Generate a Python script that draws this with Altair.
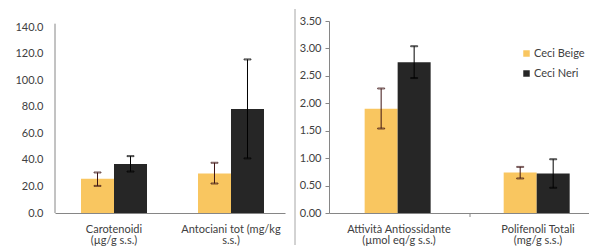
import altair as alt
import pandas as pd

FONT = "Lato"
TXT = "#404040"
AX = "#868686"
SEP = "#a6a6a6"

series = ["Ceci Beige", "Ceci Neri"]
bar_colors = ["#F9C660", "#262626"]
err_colors = ["#3d1414", "#000000"]

# left panel
left_cats = ["Carotenoidi|(µg/g s.s.)", "Antociani tot  (mg/kg|s.s.)"]
left_beige = [25.8, 29.8]
left_beige_lo = [20.4, 22.2]
left_beige_hi = [30.5, 37.8]
left_neri = [36.8, 78.2]
left_neri_lo = [31.2, 41.1]
left_neri_hi = [42.8, 115.6]
left_ticks = [0, 20, 40, 60, 80, 100, 120, 140]

# right panel
right_cats = ["Attività Antiossidante|(µmol eq/g  s.s.)", "Polifenoli Totali|(mg/g s.s.)"]
right_beige = [1.90, 0.74]
right_beige_lo = [1.54, 0.63]
right_beige_hi = [2.27, 0.84]
right_neri = [2.75, 0.72]
right_neri_lo = [2.46, 0.46]
right_neri_hi = [3.04, 0.98]
right_ticks = [0, 0.5, 1.0, 1.5, 2.0, 2.5, 3.0, 3.5]


def panel_df(cats, b, blo, bhi, n, nlo, nhi):
    rows = []
    for i, c in enumerate(cats):
        rows.append(dict(cat=c, series=series[0], v=b[i], lo=blo[i], hi=bhi[i]))
        rows.append(dict(cat=c, series=series[1], v=n[i], lo=nlo[i], hi=nhi[i]))
    return pd.DataFrame(rows)


def panel(df, cats, yscale, y_axis, xscale, offscale, legend, W, H, extra=None):
    base = alt.Chart(df)
    x = alt.X(
        "cat:N", sort=cats, scale=xscale,
        axis=alt.Axis(title=None, labelAngle=0, labelExpr="split(datum.value, '|')",
                      ticks=False, domainColor=AX, labelColor=TXT, labelFont=FONT,
                      labelFontSize=11, labelPadding=10, labelLineHeight=11.5,
                      labelOverlap=False),
    )
    xo = alt.XOffset("series:N", sort=series, scale=offscale)
    bars = base.mark_bar().encode(
        x=x, xOffset=xo,
        y=alt.Y("v:Q", scale=yscale, axis=y_axis),
        color=alt.Color("series:N", sort=series,
                        scale=alt.Scale(domain=series, range=bar_colors), legend=legend),
    )
    stroke = alt.Stroke("series:N", scale=alt.Scale(domain=series, range=err_colors), legend=None)
    rule = base.mark_rule(strokeWidth=1).encode(
        x=x, xOffset=xo, y=alt.Y("lo:Q", scale=yscale, axis=y_axis), y2="hi:Q", stroke=stroke)
    cap_hi = base.mark_tick(size=7, thickness=1, filled=False).encode(
        x=x, xOffset=xo, y=alt.Y("hi:Q", scale=yscale, axis=y_axis), stroke=stroke)
    cap_lo = base.mark_tick(size=7, thickness=1, filled=False).encode(
        x=x, xOffset=xo, y=alt.Y("lo:Q", scale=yscale, axis=y_axis), stroke=stroke)
    layers = [bars, rule, cap_hi, cap_lo]
    if extra:
        layers += extra
    return alt.layer(*layers).properties(width=W, height=H)


df_left = panel_df(left_cats, left_beige, left_beige_lo, left_beige_hi,
                   left_neri, left_neri_lo, left_neri_hi)
df_right = panel_df(right_cats, right_beige, right_beige_lo, right_beige_hi,
                    right_neri, right_neri_lo, right_neri_hi)

left_axis = alt.Axis(title=None, values=left_ticks, format=".1f", ticks=False, tickSize=0,
                     domain=False, labelColor=TXT, labelFont=FONT, labelFontSize=11,
                     labelPadding=12, minExtent=47, grid=False, labelOverlap=False)
right_axis = alt.Axis(title=None, values=right_ticks, format=".2f", ticks=True, tickSize=4,
                      tickColor=AX, domainColor=AX, labelColor=TXT, labelFont=FONT,
                      labelFontSize=11, labelPadding=4, grid=False, labelOverlap=False)

left_dmax = 140 * 192 / 186
left_yscale = alt.Scale(domain=[0, left_dmax], nice=False)
right_yscale = alt.Scale(domain=[0, 3.5], nice=False)

one = pd.DataFrame({"k": [0]})
left_domain_line = alt.Chart(one).mark_rule(color=AX, strokeWidth=1).encode(
    x=alt.value(0),
    y=alt.Y(datum=0, scale=left_yscale, axis=left_axis),
    y2=alt.datum(142.5))
separator = alt.Chart(one).mark_rule(color=SEP, strokeWidth=1).encode(
    x=alt.value(-34), y=alt.value(-12), y2=alt.value(224))
mid_tick = alt.Chart(one).mark_rule(color=AX, strokeWidth=1).encode(
    x=alt.value(141), y=alt.value(192), y2=alt.value(196))

legend = alt.Legend(title=None, orient="none", legendX=192, legendY=27, symbolType="square",
                    symbolSize=42, symbolStrokeWidth=0, labelFont=FONT, labelFontSize=11,
                    labelColor=TXT, rowPadding=8, padding=0, labelOffset=2)

left = panel(df_left, left_cats, left_yscale, left_axis,
             alt.Scale(paddingInner=0.25, paddingOuter=0.108, align=0.599),
             alt.Scale(paddingInner=0, paddingOuter=0.3295),
             None, 230, 192, extra=[left_domain_line])
right = panel(df_right, right_cats, right_yscale, right_axis,
              alt.Scale(paddingInner=0.35, paddingOuter=0.11, align=0.81),
              alt.Scale(paddingInner=0, paddingOuter=0.1437),
              legend, 260, 192, extra=[separator, mid_tick])

chart = (
    alt.hconcat(left, right, spacing=44, bounds="flush")
    .resolve_scale(color="independent", stroke="independent")
    .resolve_legend(color="independent")
    .properties(padding={"left": 0, "top": 0, "right": 0, "bottom": 0}, background="white")
    .configure_view(stroke=None)
    .configure_axis(labelOverlap=False)
)

chart.save("out.html", embed_options={"renderer": "svg", "actions": False})
